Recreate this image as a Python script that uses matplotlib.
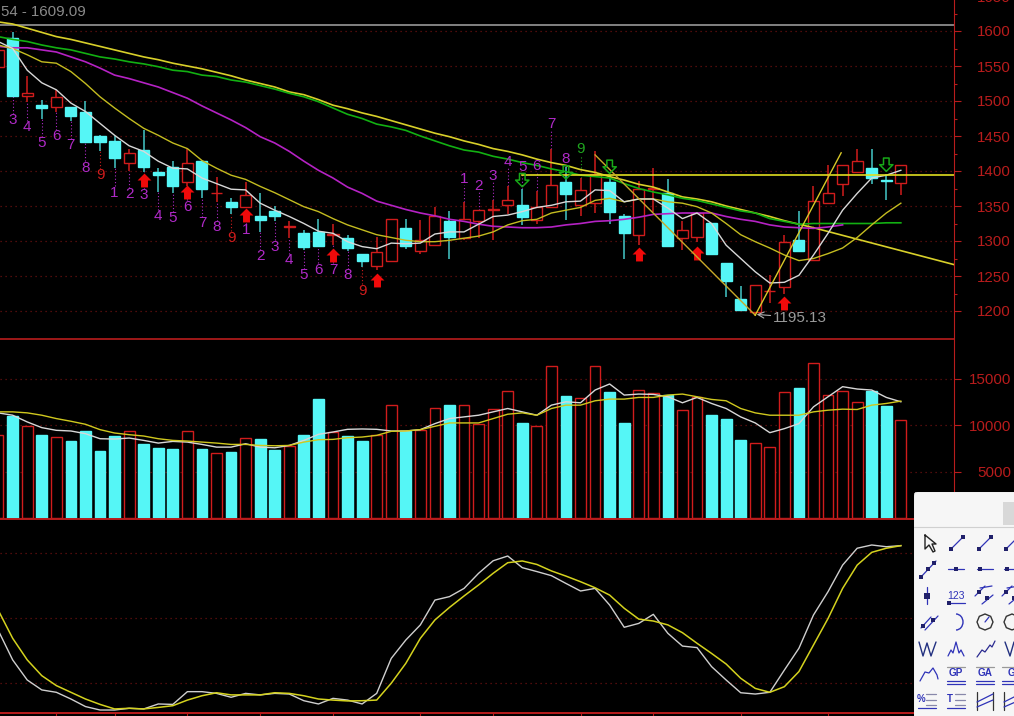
import numpy as np
import matplotlib
matplotlib.use('Agg')
import matplotlib.pyplot as plt
from matplotlib.path import Path
from matplotlib.patches import FancyBboxPatch, Rectangle, RegularPolygon, Arc

W, H = 1014, 716
plt.rcParams['font.family'] = ['Liberation Sans', 'DejaVu Sans']

# candles, one per session
opens = [1549, 1589.5, 1507, 1494, 1491, 1491, 1484, 1450, 1443, 1411, 1430, 1398, 1405, 1385, 1414, 1368,
         1355, 1349, 1336, 1343, 1320, 1312, 1313, 1308, 1305, 1282, 1265, 1271, 1319, 1286, 1294, 1329,
         1305, 1329, 1345, 1352, 1351, 1330, 1348, 1384, 1351, 1355, 1384, 1336, 1309, 1374, 1368, 1305,
         1306, 1325, 1268, 1217, 1198, 1228, 1235, 1301, 1273, 1355, 1381, 1399, 1405, 1387, 1383]
closes = [1573, 1507.6, 1512, 1490, 1505, 1479, 1441, 1442, 1418, 1425, 1406, 1395, 1378, 1412, 1375, 1369,
          1349, 1366, 1330, 1336, 1321, 1291, 1293, 1310, 1289.5, 1272, 1284, 1332, 1293, 1301, 1336, 1306,
          1332, 1344, 1346, 1358, 1335, 1349, 1380, 1367, 1373, 1396, 1342, 1311, 1375, 1375, 1293, 1316,
          1340, 1281, 1243, 1202, 1237, 1229, 1298, 1286, 1357, 1368, 1409, 1414, 1390, 1386, 1409]
highs = [1580, 1599, 1536, 1501, 1516, 1491, 1500, 1451, 1450, 1431, 1459, 1405, 1414, 1433, 1414, 1392,
         1361, 1385, 1368, 1350, 1329, 1316, 1332, 1325, 1308, 1282, 1306, 1332, 1331, 1330, 1348, 1343,
         1356, 1344, 1359, 1379, 1374, 1372, 1432, 1406, 1390, 1429, 1394, 1339, 1386, 1404, 1388, 1328,
         1340, 1325, 1268, 1236, 1237, 1251, 1309, 1343, 1379, 1408, 1409, 1432, 1432, 1396, 1409]
lows = [1540, 1507, 1499, 1475, 1485, 1472, 1441, 1429, 1404, 1400, 1399, 1370, 1369, 1378, 1361, 1356,
        1339, 1347, 1313, 1328, 1305, 1287, 1293, 1294, 1286, 1263, 1258, 1271, 1288, 1282, 1294, 1275,
        1302, 1304, 1301, 1339, 1323, 1324, 1347, 1330, 1336, 1340, 1325, 1275, 1294, 1342, 1293, 1287,
        1299, 1281, 1220, 1202, 1195.13, 1211, 1225, 1286, 1273, 1355, 1365, 1399, 1381, 1358, 1366]

# moving averages on the price panel
ma_white = [1585, 1575, 1544, 1526, 1516, 1497, 1485, 1468, 1451, 1436, 1428, 1414, 1404, 1403, 1390, 1382,
            1374, 1373, 1354, 1344, 1335, 1325, 1314, 1311, 1299, 1292, 1289, 1297, 1296, 1297, 1310, 1313,
            1313, 1324, 1335, 1337, 1342, 1348, 1351, 1356, 1357, 1373, 1372, 1356, 1360, 1360, 1347, 1332,
            1340, 1325, 1294, 1275, 1256, 1240, 1241, 1251, 1280, 1311, 1344, 1368, 1390, 1394, 1401]
ma_yellow = [1580, 1575, 1566, 1556, 1554, 1542, 1525, 1506, 1490, 1475, 1461, 1451, 1440, 1432, 1415, 1404,
             1394, 1388, 1378, 1369, 1359, 1349, 1342, 1332, 1323, 1316, 1309, 1305, 1301, 1299, 1299, 1301,
             1304, 1307, 1313, 1323, 1329, 1331, 1340, 1344, 1348, 1358, 1361, 1356, 1360, 1360, 1356, 1354,
             1349, 1340, 1325, 1309, 1299, 1290, 1280, 1272, 1275, 1282, 1290, 1305, 1323, 1340, 1354]
ma_magenta = [1578, 1576, 1576, 1573, 1570, 1563, 1556, 1547, 1537, 1532, 1526, 1520, 1512, 1504, 1493, 1483,
              1473, 1462, 1449, 1440, 1428, 1414, 1401, 1390, 1377, 1368, 1357, 1351, 1345, 1340, 1336, 1331,
              1328, 1324, 1321, 1320, 1319, 1319, 1320, 1323, 1325, 1328, 1329, 1331, 1334, 1338, 1339, 1340,
              1340, 1340, 1335, 1331, 1328, 1323, 1320, 1319, 1318, 1320, 1323]
ma_green = [1592, 1588, 1585, 1580, 1576, 1573, 1568, 1563, 1560, 1556, 1553, 1549, 1544, 1542, 1537, 1535,
            1530, 1527, 1522, 1517, 1511, 1506, 1499, 1490, 1481, 1475, 1467, 1463, 1458, 1450, 1443, 1436,
            1430, 1427, 1421, 1417, 1412, 1408, 1403, 1399, 1394, 1392, 1390, 1382, 1375, 1370, 1366, 1361,
            1358, 1353, 1348, 1343, 1340, 1332, 1328, 1324, 1325, 1325, 1325, 1325, 1325, 1326, 1326]
ma_long = [1613, 1610, 1604, 1598, 1592, 1588, 1583, 1578, 1573, 1568, 1563, 1559, 1554, 1550, 1546, 1541,
           1536, 1530, 1525, 1520, 1513, 1509, 1502, 1494, 1489, 1483, 1478, 1472, 1466, 1460, 1454, 1449,
           1443, 1438, 1432, 1428, 1423, 1417, 1412, 1408, 1402, 1398, 1392, 1387, 1381, 1377, 1370, 1363,
           1360, 1356, 1350, 1345, 1340, 1335, 1329, 1324, 1319]

# drawn lines
period_high = 1609.09
period_low = 1195.13
hline_level = 1394.5
hline_from = 36
long_ext_x = [56, 65.7]
long_ext_y = [1319, 1266]
down_x = [41, 52]
down_y = [1423, 1194]
up_x = [52, 57.9]
up_y = [1194, 1426]

# count labels
count_lo_idx = list(range(1, 26))
count_lo_txt = ['3', '4', '5', '6', '7', '8', '9', '1', '2', '3', '4', '5', '6', '7', '8', '9',
                '1', '2', '3', '4', '5', '6', '7', '8', '9']
count_lo_y = [1473, 1463, 1440, 1450, 1437, 1405, 1394, 1369, 1367, 1366, 1335, 1333, 1349, 1326, 1320, 1305,
              1316, 1278, 1292, 1273, 1251, 1259, 1259, 1251, 1229]
count_hi_idx = [32, 33, 34, 35, 36, 37, 38, 39, 40]
count_hi_txt = ['1', '2', '3', '4', '5', '6', '7', '8', '9']
count_hi_y = [1389, 1379, 1393, 1413, 1406, 1407, 1467, 1417, 1431]

# signal arrows
up_idx = [10, 13, 17, 23, 26, 44, 48, 54]
up_price = [1387, 1370, 1337, 1280, 1244, 1281, 1283, 1212]
down_idx = [36, 39, 42, 61]
down_price = [1387, 1398, 1406, 1409]

# volume panel
volumes = [8920, 10980, 9896, 8920, 8737, 8267, 9353, 7217, 8810, 9353, 8013, 7579, 7470, 9353, 7470, 7036,
           7072, 8629, 8556, 7362, 7724, 8920, 12864, 9280, 8810, 8267, 8920, 12176, 9389, 9461, 11887, 12176,
           12140, 10185, 11742, 13697, 10294, 9896, 16412, 13154, 12900, 16412, 13552, 10294, 13805, 13443,
           13262, 11633, 13081, 11163, 10728, 8448, 8086, 7651, 13552, 13986, 16701, 13262, 13697, 12466,
           13733, 12104, 10547]
vol_white = [11344, 11090, 10366, 9751, 9461, 9389, 9099, 8556, 8520, 8629, 8375, 8086, 8267, 8194, 7941, 7651,
             7651, 8013, 7651, 7579, 7832, 8375, 9027, 9280, 9570, 9606, 9570, 9389, 9389, 9534, 10185, 10728,
             10909, 11090, 11452, 11814, 11452, 11090, 12176, 12538, 12430, 13805, 14457, 13262, 13371, 13335,
             13081, 12430, 13009, 12357, 11814, 10909, 10258, 9208, 9642, 10185, 11995, 13081, 14167, 13914,
             13805, 13009, 12538]
vol_yellow = [11452, 11452, 11344, 11090, 10728, 10439, 10113, 9534, 9172, 8991, 8846, 8556, 8375, 8303, 8194,
              8086, 7941, 7941, 7832, 7796, 7832, 8194, 8448, 8484, 8665, 8737, 8918, 9353, 9389, 9534, 9896,
              10258, 10258, 10258, 10728, 11199, 11344, 11090, 11814, 12176, 12176, 12647, 12828, 12828, 13009,
              13009, 13262, 13371, 13081, 12792, 12647, 11814, 11344, 11090, 11090, 11090, 11452, 11633, 11742,
              11706, 12176, 12357, 12611]

# oscillator panel
stoch_k = [44.4, 30.6, 21.3, 16.7, 15.6, 12.5, 9.0, 7.4, 7.4, 8.2, 7.9, 10.2, 10.0, 15.9, 15.9, 15.1, 13.3, 15.1,
           14.4, 15.1, 14.8, 11.7, 10.2, 12.8, 12.0, 10.2, 15.1, 31.3, 39.8, 46.8, 58.3, 59.9, 63.7, 70.7, 76.5,
           78.7, 73.3, 71.5, 69.6, 66.0, 62.5, 63.7, 56.0, 45.7, 47.5, 51.7, 42.9, 37.0, 36.3, 27.5, 21.3, 15.4,
           14.8, 15.6, 25.9, 36.0, 51.4, 62.2, 74.5, 82.3, 83.8, 83.0, 83.5]
stoch_d = [53.7, 40.6, 30.6, 23.3, 18.7, 15.6, 12.5, 10.0, 7.9, 8.2, 7.9, 8.6, 9.4, 12.0, 14.0, 15.4, 14.4, 14.4,
           14.4, 15.4, 15.1, 14.0, 12.5, 12.0, 11.6, 11.7, 12.0, 19.8, 29.0, 40.6, 49.1, 54.9, 60.2, 65.3, 70.7,
           75.6, 76.4, 74.8, 71.8, 69.4, 66.8, 64.0, 60.6, 54.5, 49.5, 48.6, 46.8, 43.2, 38.3, 33.6, 28.7, 22.1,
           17.4, 15.6, 18.2, 25.2, 37.5, 49.8, 63.7, 74.5, 80.4, 82.3, 83.5]

price_ticks = [1200, 1250, 1300, 1350, 1400, 1450, 1500, 1550, 1600, 1650]
volume_ticks = [5000, 10000, 15000]
stoch_grid = [20, 50, 80]
session_ticks = [4, 8, 13, 18, 23, 29, 34, 40, 45, 51, 57]

CYAN = '#55f6f6'
WICK = '#45c8c8'
RED = '#d01c1c'
AXIS = '#b81c1c'
GRID = '#6a1010'
MAGENTA = '#b02ac8'


def panel(top, bottom, right=954):
    """axes placed by pixel rows of the screenshot"""
    ax = fig.add_axes([0, (H - bottom) / H, right / W, (bottom - top) / H], facecolor='black')
    ax.set_xlim(0.13, 65.65)
    for s in ('top', 'left', 'bottom'):
        ax.spines[s].set_visible(False)
    ax.spines['right'].set_color(AXIS)
    ax.spines['bottom'].set_color(AXIS)
    ax.yaxis.tick_right()
    ax.set_xticks([])
    ax.tick_params(axis='y', colors=AXIS, length=5, width=0.8, pad=36, labelsize=10.9)
    ax.patch.set_alpha(0)
    return ax


fig = plt.figure(figsize=(W / 100, H / 100), dpi=100, facecolor='black')
x = np.arange(len(closes))
is_up = np.array(closes) >= np.array(opens)

# ---- price panel, runs a little past the top edge like the screenshot
ax = panel(-8, 339)
ax.set_ylim(1200 - 28 / 0.7, 1600 + 39 / 0.7)
ax.set_yticks(price_ticks)
ax.set_yticks(np.array(price_ticks[:-1]) + 25, minor=True)
ax.tick_params(axis='y', which='minor', colors=AXIS, length=2.5, width=0.8)
for lab in ax.get_yticklabels():
    lab.set_ha('right')
ax.yaxis.grid(True, linestyle=(0, (1, 3)), color=GRID, lw=0.9)
ax.spines['bottom'].set_visible(True)
ax.spines['bottom'].set_linewidth(1.2)
ax.axhline(period_high, color='#8c8c8c', lw=1.3)

wick_cols = [RED if u else WICK for u in is_up]
ax.vlines(x, lows, highs, colors=wick_cols, lw=1.1, zorder=2)
body_low = np.minimum(opens, closes)
body_h = np.abs(np.array(closes) - np.array(opens))
ax.bar(x, body_h, bottom=body_low, width=0.76, color=['black' if u else CYAN for u in is_up],
       edgecolor=[RED if u else CYAN for u in is_up], lw=1.0, zorder=3)

# count numbers and their dotted stems
for i, t, y in zip(count_lo_idx, count_lo_txt, count_lo_y):
    c = RED if t == '9' else MAGENTA
    ax.vlines(i, y + 9, lows[i], colors=c, lw=0.8, linestyles=(0, (1, 2)), zorder=1)
    ax.text(i, y, t, color=c, fontsize=11, ha='center', va='center', zorder=6)
for i, t, y in zip(count_hi_idx, count_hi_txt, count_hi_y):
    c = '#1fa51f' if i == 40 else MAGENTA
    ax.vlines(i, highs[i], y - 9, colors=c, lw=0.8, linestyles=(0, (1, 2)), zorder=1)
    ax.text(i, y, t, color=c, fontsize=11, ha='center', va='center', zorder=6)

ax.plot(x[:len(ma_long)], ma_long, color='#d8d02a', lw=1.2, zorder=4)
ax.plot(long_ext_x, long_ext_y, color='#d8d02a', lw=1.2, zorder=4)
ax.plot(x, ma_green, color='#12b012', lw=1.2, zorder=4)
ax.plot(x[:len(ma_magenta)], ma_magenta, color='#b522c4', lw=1.2, zorder=4)
ax.plot(x, ma_yellow, color='#c4bc20', lw=1.0, zorder=4)
ax.plot(x, ma_white, color='#d8d8d8', lw=1.0, zorder=4)
ax.plot([hline_from, ax.get_xlim()[1]], [hline_level, hline_level], color='#e0dc20', lw=1.2, zorder=4)
ax.plot(down_x, down_y, color='#c8a828', lw=1.0, zorder=5)
ax.plot(up_x, up_y, color='#d8c828', lw=1.0, zorder=5)

up_marker = Path([(0, 1), (1, 0), (0.5, 0), (0.5, -1), (-0.5, -1), (-0.5, 0), (-1, 0), (0, 1)], closed=True)
down_marker = Path([(0, -1), (1, 0), (0.42, 0), (0.42, 1), (-0.42, 1), (-0.42, 0), (-1, 0), (0, -1)], closed=True)
ax.scatter(up_idx, up_price, marker=up_marker, s=100, color='#f00a0a', lw=0, zorder=4.5)
ax.scatter(down_idx, down_price, marker=down_marker, s=92, facecolors='none', edgecolors='#18a818', lw=1.1, zorder=5)

ax.annotate(f'{period_low:.2f}', xy=(52.1, period_low), xytext=(12, -2.5), textcoords='offset points',
            color='#9a9a9a', fontsize=11, va='center',
            arrowprops=dict(arrowstyle='->', color='#b0b0b0', lw=0.8, shrinkA=0, shrinkB=0))
fig.text(1 / W, 1 - 12 / H, f'54 - {period_high:.2f}', color='#8a8a8a', fontsize=10.8, va='center')

# ---- volume panel
ax2 = panel(340, 519)
ax2.set_ylim(-100, 19200)
ax2.set_yticks(volume_ticks)
for lab in ax2.get_yticklabels():
    lab.set_ha('right')
ax2.yaxis.grid(True, linestyle=(0, (1, 3)), color=GRID, lw=0.9)
ax2.spines['bottom'].set_visible(True)
ax2.spines['bottom'].set_linewidth(1.4)
ax2.bar(x, volumes, width=0.74, color=['black' if u else CYAN for u in is_up],
        edgecolor=[RED if u else CYAN for u in is_up], lw=1.0, zorder=2)
ax2.plot(x, vol_white, color='#d8d8d8', lw=1.0, zorder=3)
ax2.plot(x, vol_yellow, color='#d0c81e', lw=1.0, zorder=3)

# ---- oscillator panel
ax3 = panel(520, 713)
ax3.set_ylim(50 - 95 / 2.16, 50 + 98 / 2.16)
ax3.set_yticks(stoch_grid)
ax3.set_yticklabels([])
ax3.set_xticks(session_ticks)
ax3.set_xticklabels([])
ax3.tick_params(axis='x', colors=AXIS, length=2, width=0.8)
ax3.yaxis.grid(True, linestyle=(0, (1, 3)), color=GRID, lw=0.9)
ax3.spines['bottom'].set_visible(True)
ax3.spines['bottom'].set_linewidth(1.4)
ax3.plot(x, stoch_k, color='#cfcfcf', lw=1.0, zorder=3)
ax3.plot(x, stoch_d, color='#d4d21e', lw=1.1, zorder=3)

# ---- floating drawing toolbar on top of the lower right corner
tb = fig.add_axes([914 / W, 0, 100 / W, 224 / H], zorder=10)
tb.set_xlim(914, 1014)
tb.set_ylim(716, 492)
tb.axis('off')
tb.add_patch(FancyBboxPatch((916, 494), 120, 240, boxstyle='round,pad=2,rounding_size=4', fc='#f6f6f6', ec='#e8e8e8', lw=0.5))
tb.add_patch(Rectangle((1003, 502), 14, 23, fc='#d8d8d8', ec='none'))
tb.plot([914, 1014], [527, 527], color='#d0d0d0', lw=0.8)

BLUE = '#2f33b8'


def seg(*pts, c=BLUE, lw=0.9):
    xs, ys = zip(*pts)
    tb.plot(xs, ys, color=c, lw=lw, solid_capstyle='round')


def dots(*pts, c='#20206a', s=5):
    xs, ys = zip(*pts)
    tb.scatter(xs, ys, s=s, color=c, marker='s', lw=0, zorder=3)


# row 1
seg((925, 535), (925, 549), (929, 545), (933, 552), (935, 551), (932, 544), (936, 544), (925, 535), c='#222222', lw=1.0)
for cx in (957, 985, 1012):
    seg((cx - 7, 550), (cx + 7, 536))
    dots((cx - 6, 549), (cx + 6, 537))
# row 2
seg((920, 578), (936, 561))
dots((921, 577), (928, 569), (934, 563))
for cx, d in ((956, 0), (985, -5), (1012, -5)):
    seg((cx - 8, 569), (cx + 8, 569))
    dots((cx + d, 569), s=10)
# row 3
seg((927, 587), (927, 604))
dots((927, 596), s=14)
tb.text(956, 596, '123', color=BLUE, fontsize=7.5, ha='center', va='center')
seg((949, 603), (965, 603))
dots((949, 603), s=10)
for cx in (985, 1012):
    seg((cx - 10, 596), (cx, 586))
    seg((cx - 3, 604), (cx + 8, 595))
    seg((cx - 5, 588), (cx + 7, 586))
    dots((cx - 6, 592), (cx + 2, 598))
# row 4
seg((921, 628), (931, 617))
seg((925, 630), (938, 616))
dots((923, 626), (933, 620))
tb.add_patch(Arc((956, 622), 14, 16, theta1=-90, theta2=90, ec=BLUE, lw=1.0))
tb.add_patch(RegularPolygon((985, 622), 8, radius=8, fc='none', ec='#333333', lw=1.0))
seg((985, 622), (989, 617))
tb.add_patch(RegularPolygon((1012, 622), 8, radius=8, fc='none', ec='#333333', lw=1.0))
# row 5
seg((919, 642), (923, 656), (927, 643), (931, 656), (936, 642), c='#223080', lw=1.0)
seg((948, 656), (951, 650), (953, 653), (956, 642), (959, 653), (961, 650), (964, 656))
seg((977, 657), (982, 650), (985, 652), (990, 645), (992, 647), (995, 641), c='#2a2a90')
seg((1005, 642), (1010, 656), (1014, 642), c='#223080', lw=1.0)
# row 6
seg((920, 681), (925, 672), (929, 673), (933, 668), (937, 675), (938, 679))
for cx, t in ((956, 'GP'), (985, 'GA'), (1011, 'G')):
    seg((cx - 9, 667), (cx + 9, 667), c='#999999')
    tb.text(cx, 673, t, color=BLUE, fontsize=7.2, fontweight='bold', ha='center', va='center')
    seg((cx - 9, 681), (cx + 9, 681))
    seg((cx - 9, 684), (cx + 9, 684))
# row 7
for cx, t in ((927, '%'), (956, 'T')):
    tb.text(cx - 6, 699, t, color=BLUE, fontsize=7, fontweight='bold', ha='center', va='center')
    for yy in (694, 700, 705):
        seg((cx - 1, yy), (cx + 9, yy), c='#8888aa')
    seg((cx - 9, 708), (cx + 9, 708))
for cx in (985, 1012):
    seg((cx - 8, 692), (cx - 8, 710), c='#333333')
    seg((cx + 8, 692), (cx + 8, 710), c='#333333')
    seg((cx - 8, 702), (cx + 8, 694))
    seg((cx - 8, 707), (cx + 8, 700))

fig.savefig('out.png', dpi=100, facecolor='black')
